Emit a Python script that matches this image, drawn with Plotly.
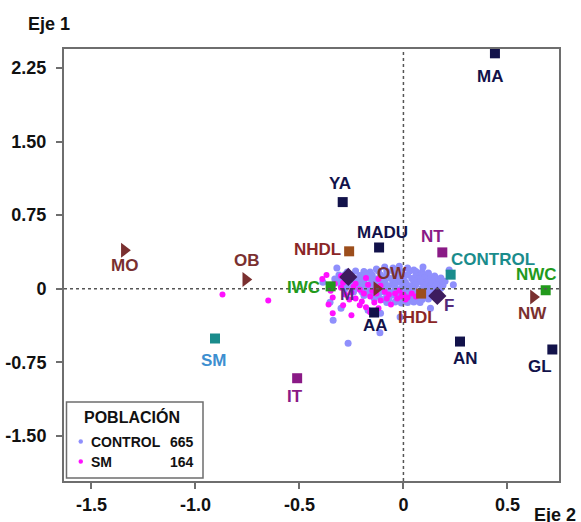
import plotly.graph_objects as go

# ---------------- data ----------------
cat_names = ["MA", "YA", "MADU", "NHDL", "NT", "CONTROL", "IWC", "M", "OW", "IHDL",
             "F", "AA", "AN", "GL", "NWC", "NW", "MO", "OB", "SM", "IT"]
cat_x = [0.44, -0.292, -0.117, -0.261, 0.187, 0.227, -0.35, -0.265, -0.128, 0.085,
         0.163, -0.141, 0.272, 0.716, 0.684, 0.625, -1.342, -0.758, -0.906, -0.511]
cat_y = [2.40, 0.883, 0.42, 0.381, 0.37, 0.143, 0.024, 0.12, 0.0, -0.05,
         -0.074, -0.243, -0.539, -0.62, -0.016, -0.085, 0.391, 0.093, -0.508, -0.913]

x_tick_vals = [-1.5, -1.0, -0.5, 0, 0.5]
x_tick_text = ["-1.5", "-1.0", "-0.5", "0", "0.5"]
y_tick_vals = [2.25, 1.5, 0.75, 0, -0.75, -1.5]
y_tick_text = ["2.25", "1.50", "0.75", "0", "-0.75", "-1.50"]

legend_groups = ["CONTROL", "SM"]
legend_counts = [665, 164]

control_x = [
    -0.13, -0.09, -0.05, -0.02, 0.02, 0.05,
    -0.27, -0.23, -0.19, -0.16, -0.12, -0.08, -0.05, -0.01, 0.03, 0.06, 0.09, 0.12,
    -0.31, -0.28, -0.25, -0.21, -0.18, -0.15, -0.11, -0.08, -0.04, -0.01, 0.02, 0.06, 0.09, 0.12, 0.15,
    -0.33, -0.30, -0.26, -0.23, -0.20, -0.16, -0.13, -0.10, -0.06, -0.03, 0.00, 0.04, 0.07, 0.10, 0.13, 0.16, 0.18,
    -0.32, -0.29, -0.25, -0.22, -0.19, -0.15, -0.12, -0.09, -0.05, -0.02, 0.01, 0.05, 0.08, 0.11, 0.14, 0.17, 0.20,
    -0.30, -0.27, -0.24, -0.20, -0.17, -0.14, -0.10, -0.07, -0.04, 0.00, 0.03, 0.06, 0.10, 0.13, 0.16, 0.19,
    -0.28, -0.24, -0.21, -0.18, -0.14, -0.11, -0.08, -0.04, -0.01, 0.02, 0.05, 0.09, 0.12, 0.15, 0.18,
    -0.24, -0.20, -0.17, -0.13, -0.10, -0.06, -0.03, 0.00, 0.04, 0.07, 0.10, 0.13, 0.16,
    -0.19, -0.15, -0.12, -0.08, -0.05, -0.01, 0.02, 0.05, 0.08, 0.11, 0.14,
    -0.14, -0.10, -0.07, -0.03, 0.00, 0.03, 0.06, 0.09, 0.12,
    -0.08, -0.04, -0.01, 0.02, 0.05, 0.08,
    -0.387, -0.353, -0.338, -0.266, -0.113, -0.32, 0.094, -0.016, -0.11, 0.22, 0.24, -0.17, 0.13, -0.30,
]
control_y = [
    0.20, 0.22, 0.21, 0.23, 0.21, 0.19,
    0.17, 0.18, 0.175, 0.17, 0.18, 0.175, 0.18, 0.17, 0.18, 0.175, 0.17, 0.16,
    0.14, 0.145, 0.14, 0.135, 0.145, 0.14, 0.14, 0.135, 0.145, 0.14, 0.14, 0.135, 0.14, 0.145, 0.13,
    0.10, 0.11, 0.105, 0.10, 0.11, 0.105, 0.10, 0.11, 0.105, 0.10, 0.11, 0.105, 0.10, 0.11, 0.105, 0.10, 0.11,
    0.07, 0.075, 0.07, 0.065, 0.075, 0.07, 0.065, 0.075, 0.07, 0.07, 0.065, 0.075, 0.07, 0.065, 0.075, 0.07, 0.075,
    0.035, 0.03, 0.04, 0.035, 0.03, 0.04, 0.035, 0.03, 0.04, 0.035, 0.03, 0.04, 0.035, 0.03, 0.04, 0.035,
    0.0, -0.005, 0.005, 0.0, -0.005, 0.005, 0.0, -0.005, 0.005, 0.0, -0.005, 0.005, 0.0, -0.005, 0.005,
    -0.035, -0.03, -0.04, -0.035, -0.03, -0.04, -0.035, -0.03, -0.04, -0.035, -0.03, -0.04, -0.035,
    -0.07, -0.065, -0.075, -0.07, -0.065, -0.075, -0.07, -0.065, -0.075, -0.07, -0.065,
    -0.10, -0.11, -0.105, -0.10, -0.11, -0.105, -0.10, -0.11, -0.105,
    -0.14, -0.135, -0.145, -0.14, -0.135, -0.14,
    0.065, -0.139, -0.322, -0.556, -0.45, 0.21, 0.22, -0.29, -0.25, 0.19, 0.04, -0.22, -0.20, -0.20,
]

sm_x = [
    -0.29, -0.23, -0.17, -0.11,
    -0.30, -0.24, -0.21, -0.15, -0.09,
    -0.28, -0.25, -0.19, -0.16, -0.13, -0.07, -0.04,
    -0.26, -0.23, -0.20, -0.14, -0.11, -0.08,
    -0.21, -0.18, -0.12,
    -0.39, -0.37, -0.35, -0.34, -0.33, -0.34, -0.25, -0.16, -0.06, -0.03, -0.02,
    0.00, 0.02, 0.04, 0.01, 0.06, -0.01,
    -0.12, -0.18, -0.30,
    -0.87, -0.65, -0.36, -0.29,
]
sm_y = [
    0.06, 0.05, 0.04, 0.03,
    0.01, 0.02, -0.01, -0.02, -0.03,
    -0.06, -0.04, -0.05, -0.08, -0.05, -0.06, -0.05,
    -0.11, -0.10, -0.13, -0.14, -0.12, -0.10,
    -0.17, -0.19, -0.20,
    0.10, 0.14, -0.02, -0.09, 0.05, -0.25, -0.27, -0.24, -0.16, -0.10, -0.02,
    -0.06, -0.09, -0.05, -0.11, -0.08, -0.08,
    0.10, 0.11, 0.13,
    -0.06, -0.12, -0.16, -0.17,
]

# ---------------- styles ----------------
NAVY = "#12124a"
BROWN_SQ = "#9c4e1c"
DARKRED = "#8b2626"
PURPLE = "#8a1a86"
TEAL = "#1a8c8c"
GREEN = "#229a1c"
DIAM = "#3d1c5e"
DIAM_TXT = "#52297a"
TRI = "#7a3030"
SMTXT = "#3d8fd0"

style = {
    "MA": ("square", NAVY, NAVY, -5, 23),
    "YA": ("square", NAVY, NAVY, -3, -19),
    "MADU": ("square", NAVY, NAVY, 3, -15),
    "NHDL": ("square", BROWN_SQ, DARKRED, -32, -1.5),
    "NT": ("square", PURPLE, PURPLE, -10, -15.5),
    "CONTROL": ("square", TEAL, TEAL, 42, -15),
    "IWC": ("square", GREEN, GREEN, -27, 1.5),
    "M": ("diamond", DIAM, DIAM_TXT, -1, 18),
    "OW": ("triangle-right", TRI, TRI, 15, -15),
    "IHDL": ("square", BROWN_SQ, DARKRED, -3.5, 24),
    "F": ("diamond", DIAM, DIAM_TXT, 12, 10),
    "AA": ("square", NAVY, NAVY, 1, 13),
    "AN": ("square", NAVY, NAVY, 5, 17),
    "GL": ("square", NAVY, NAVY, -12, 17),
    "NWC": ("square", GREEN, GREEN, -9, -15.5),
    "NW": ("triangle-right", TRI, TRI, -1, 16),
    "MO": ("triangle-right", TRI, TRI, 0, 15.5),
    "OB": ("triangle-right", TRI, TRI, 1, -19),
    "SM": ("square", TEAL, SMTXT, -1, 22),
    "IT": ("square", PURPLE, PURPLE, -2, 18.5),
}
sym_size = {"square": 10, "diamond": 14, "triangle-right": 13}

FONT = "Liberation Sans, Arial, sans-serif"
AXC = "#6e6e6e"

fig = go.Figure()

fig.add_trace(go.Scatter(x=control_x, y=control_y, mode="markers",
                         marker=dict(color="#8f8ffc", size=7, opacity=1, line=dict(width=0)),
                         hoverinfo="skip"))
fig.add_trace(go.Scatter(x=sm_x, y=sm_y, mode="markers",
                         marker=dict(color="#ff10ff", size=6, opacity=1, line=dict(width=0)),
                         hoverinfo="skip"))

# category markers
fig.add_trace(go.Scatter(
    x=cat_x, y=cat_y, mode="markers", text=cat_names,
    marker=dict(symbol=[style[n][0] for n in cat_names],
                color=[style[n][1] for n in cat_names],
                size=[sym_size[style[n][0]] for n in cat_names],
                opacity=1, line=dict(width=0)),
))

annotations = []
for n, xv, yv in zip(cat_names, cat_x, cat_y):
    sym, mc, tc, dx, dy = style[n]
    annotations.append(dict(x=xv, y=yv, xref="x", yref="y", text=n, showarrow=False,
                            xshift=dx, yshift=-dy, xanchor="center", yanchor="middle",
                            font=dict(family=FONT, size=17, color=tc, weight="bold")))

# axis titles
annotations.append(dict(x=-0.031, y=1.057, xref="paper", yref="paper", text="Eje 1",
                        showarrow=False, xanchor="center", yanchor="middle",
                        font=dict(family=FONT, size=18, color="#111", weight="bold")))
annotations.append(dict(x=0.992, y=-0.079, xref="paper", yref="paper", text="Eje 2",
                        showarrow=False, xanchor="center", yanchor="middle",
                        font=dict(family=FONT, size=18, color="#111", weight="bold")))


# legend box (paper coords from pixels: x=(px-64)/495, y=(481-py)/432)
def px(p):
    return (p - 64) / 495.0


def py(p):
    return (481 - p) / 432.0


shapes = [
    dict(type="line", xref="x", yref="paper", x0=0, x1=0, y0=0, y1=1,
         line=dict(color="#555", width=1.5, dash="3px,3px"), layer="above"),
    dict(type="line", xref="paper", yref="y", x0=0, x1=1, y0=0, y1=0,
         line=dict(color="#555", width=1.5, dash="3px,3px"), layer="above"),
    dict(type="rect", xref="paper", yref="paper", x0=px(66.5), x1=px(203), y0=py(478), y1=py(402),
         line=dict(color=AXC, width=1.5), fillcolor="white", layer="above"),
]
annotations.append(dict(x=px(82), y=py(417), xref="paper", yref="paper", text="POBLACIÓN",
                        showarrow=False, xanchor="left", yanchor="middle",
                        font=dict(family=FONT, size=16, color="#111", weight="bold")))
dot_colors = ["#8f8ffc", "#ff10ff"]
for i, (g, c) in enumerate(zip(legend_groups, legend_counts)):
    yy = 441.5 + 20 * i
    annotations.append(dict(x=px(89), y=py(yy), xref="paper", yref="paper", text=g,
                            showarrow=False, xanchor="left", yanchor="middle",
                            font=dict(family=FONT, size=14, color="#111", weight="bold")))
    annotations.append(dict(x=px(196), y=py(yy), xref="paper", yref="paper", text=str(c),
                            showarrow=False, xanchor="right", yanchor="middle",
                            font=dict(family=FONT, size=14, color="#111", weight="bold")))
    shapes.append(dict(type="circle", xref="paper", yref="paper",
                       x0=px(78.5), x1=px(83), y0=py(yy + 2.3), y1=py(yy - 2.3),
                       fillcolor=dot_colors[i], line=dict(width=0), layer="above"))

fig.update_layout(
    width=581, height=522,
    margin=dict(l=64, r=22, t=49, b=41, autoexpand=False),
    plot_bgcolor="white", paper_bgcolor="white",
    showlegend=False,
    shapes=shapes, annotations=annotations,
    font=dict(family=FONT),
)
fig.update_xaxes(range=[-1.632, 0.748], tickvals=x_tick_vals, ticktext=x_tick_text,
                 showgrid=False, zeroline=False, showline=True, mirror=True, automargin=False,
                 linecolor=AXC, linewidth=2, ticks="outside", ticklen=6, tickwidth=1.5,
                 tickcolor=AXC, ticklabelstandoff=0,
                 tickfont=dict(family=FONT, size=18, color="#111", weight="bold"))
fig.update_yaxes(range=[-1.961, 2.444], tickvals=y_tick_vals, ticktext=y_tick_text,
                 showgrid=False, zeroline=False, showline=True, mirror=True, automargin=False,
                 linecolor=AXC, linewidth=2, ticks="outside", ticklen=6, tickwidth=1.5,
                 tickcolor=AXC, ticklabelstandoff=6,
                 tickfont=dict(family=FONT, size=18, color="#111", weight="bold"))

fig.write_html("out.html", config={"displayModeBar": False},
               post_script="document.body.style.margin='0';")
